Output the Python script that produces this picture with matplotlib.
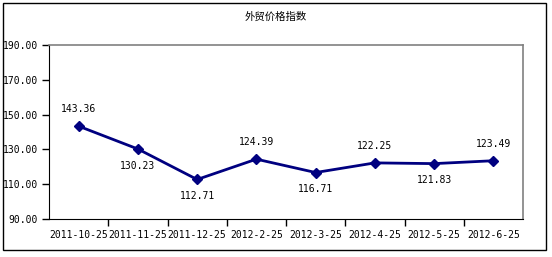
import matplotlib

matplotlib.use("Agg")
import matplotlib.pyplot as plt
from matplotlib.patches import Rectangle

dates = ["2011-10-25", "2011-11-25", "2011-12-25", "2012-2-25",
         "2012-3-25", "2012-4-25", "2012-5-25", "2012-6-25"]
values = [143.36, 130.23, 112.71, 124.39, 116.71, 122.25, 121.83, 123.49]
# label above (+1) or below (-1) the point
label_side = [1, -1, -1, 1, -1, 1, -1, 1]
yticks = [90, 110, 130, 150, 170, 190]

W, H = 552, 257
fig = plt.figure(figsize=(W / 100, H / 100), dpi=100)
fig.patch.set_facecolor("white")

# outer chart frame
fig.patches.append(Rectangle((3 / W, 1 - 250 / H), 543 / W, 247 / H,
                             transform=fig.transFigure, fill=False,
                             edgecolor="black", lw=1.0))

ax = fig.add_axes([49 / W, 1 - 219 / H, 474 / W, 174 / H])
x = list(range(len(dates)))
ax.plot(x, values, color="#000080", lw=2, marker="D", ms=5.5,
        markeredgecolor="#000080", markerfacecolor="#000080")

mono = "DejaVu Sans Mono"
for xi, v, s in zip(x, values, label_side):
    ax.annotate(f"{v:.2f}", (xi, v), xytext=(0, 12 * s), textcoords="offset points",
                ha="center", va="center", fontsize=7, family=mono)

ax.set_xlim(-0.5, len(dates) - 0.5)
ax.set_ylim(90, 190)
ax.set_yticks(yticks)
ax.set_yticklabels([f"{t:.2f}" for t in yticks], family=mono, fontsize=7)
ax.set_xticks(x)
ax.set_xticklabels(dates, family=mono, fontsize=7)
ax.set_xticks([i + 0.5 for i in x[:-1]], minor=True)
ax.tick_params(axis="x", which="major", length=0, pad=8)
ax.tick_params(axis="x", which="minor", length=5, direction="out", width=1)
ax.tick_params(axis="y", length=5, direction="out", width=1, pad=3)

ax.spines["left"].set_color("black")
ax.spines["bottom"].set_color("black")
for side in ("top", "right"):
    ax.spines[side].set_color("#808080")
    ax.spines[side].set_linewidth(1.2)

fig.text(0.5, 1 - 17 / H, "外贸价格指数", ha="center", va="center", fontsize=7.5,
         family=["Noto Sans CJK SC", "DejaVu Sans"])

fig.savefig("out.png", dpi=100)
